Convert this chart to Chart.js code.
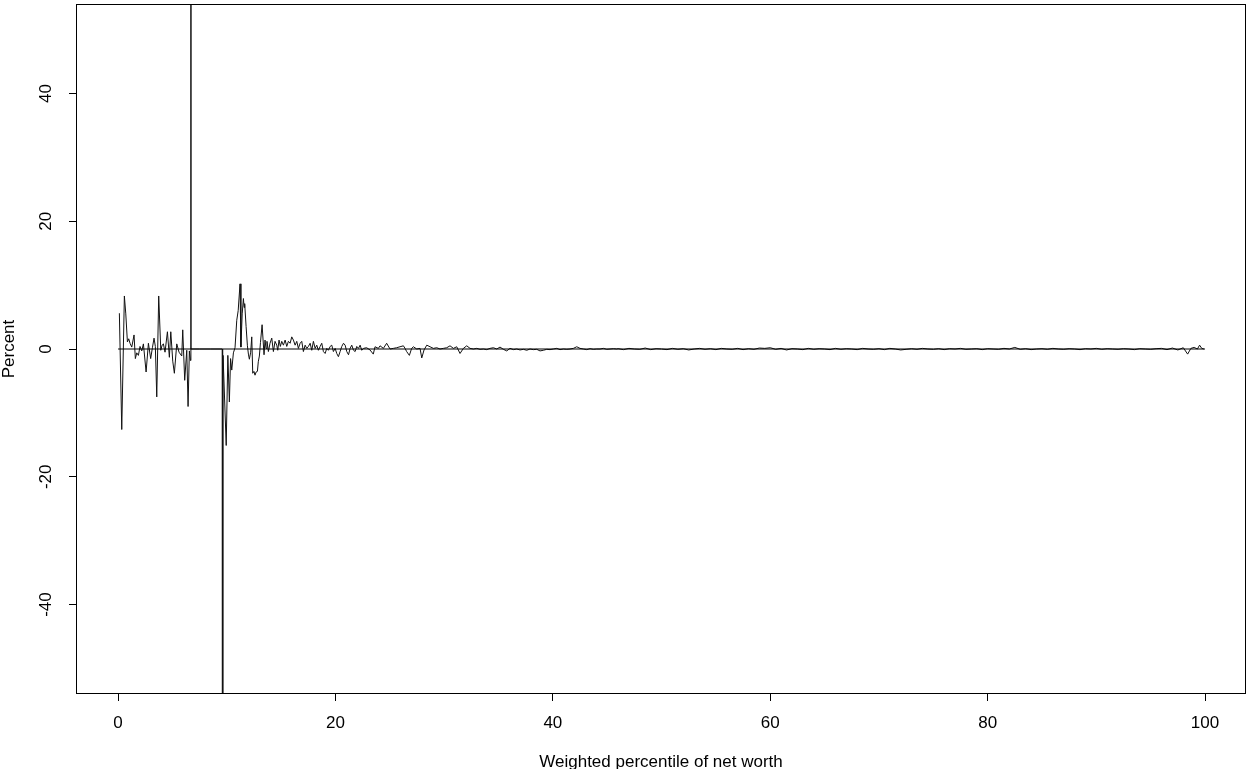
<!DOCTYPE html>
<html>
<head>
<meta charset="utf-8">
<script src="https://cdn.jsdelivr.net/npm/chart.js@4.4.1/dist/chart.umd.min.js"></script>
<style>
html,body{margin:0;padding:0;background:#fff;}
canvas{display:block;}
</style>
</head>
<body>
<canvas id="c" width="1250" height="769"></canvas>
<script>
// Weighted percentile of net worth (x) and percent change (y)
const percentile = [
 0.12,0.34,0.58,0.71,0.86,0.98,1.10,1.26,1.47,1.59,1.72,1.87,2.02,2.18,2.33,2.58,2.79,3.00,3.16,3.31,3.43,3.56,3.74,3.93,4.05,4.17,4.32,4.54,4.72,4.85,5.03,5.18,5.40,5.61,5.86,5.95,6.13,6.32,6.44,6.56,6.66,6.70,6.71,
 7.5,8.5,9.58,9.62,9.66,9.95,10.10,10.24,10.35,10.46,10.61,10.76,10.92,11.05,11.22,11.30,11.42,11.53,11.60,11.65,11.78,11.90,11.99,12.08,12.20,12.30,12.39,12.50,12.60,12.70,12.82,12.90,13.00,13.10,13.25,
 13.43,13.52,13.61,13.70,13.83,13.98,14.14,14.29,14.44,14.60,14.69,14.81,14.93,15.06,15.21,15.37,15.52,15.67,15.83,15.98,16.13,16.29,16.44,16.59,16.75,16.90,17.05,17.21,17.36,17.51,17.67,17.82,17.97,18.13,18.28,18.43,18.59,18.74,18.89,19.05,19.20,19.35,19.51,19.66,19.81,19.97,20.12,20.27,20.43,20.58,20.74,20.89,21.04,21.20,21.35,21.50,21.66,21.81,21.96,22.12,22.27,22.42,22.58,
 22.87,23.18,23.48,23.64,23.95,24.10,24.41,24.71,25.02,25.33,25.63,25.94,26.25,26.40,26.55,26.80,27.01,27.17,27.48,27.78,27.94,28.15,28.40,28.70,29.01,29.32,29.62,29.93,30.24,30.54,30.85,31.16,31.46,31.77,32.08,32.38,32.69,33.00,33.30,33.61,33.92,34.22,34.53,34.84,35.14,35.45,35.76,36.06,36.37,36.68,36.98,37.29,37.60,37.90,38.21,38.52,38.82,39.13,39.44,39.74,40.05,40.36,40.66,40.97,41.28,41.58,41.89,42.20,42.50,42.81,43.12,43.42,43.73,44.04,44.34,44.65,44.96,45.26,45.57,45.88,
 46.0,46.5,47.0,47.5,48.0,48.5,49.0,49.5,50.0,50.5,51.0,51.5,52.0,52.5,53.0,53.5,54.0,54.5,55.0,55.5,56.0,56.5,57.0,57.5,58.0,58.5,59.0,59.5,60.0,60.5,61.0,61.5,62.0,62.5,63.0,63.5,64.0,64.5,65.0,65.5,66.0,66.5,67.0,67.5,68.0,68.5,69.0,69.5,70.0,70.5,71.0,71.5,72.0,72.5,73.0,73.5,74.0,74.5,75.0,75.5,76.0,76.5,77.0,77.5,78.0,78.5,79.0,79.5,80.0,80.5,81.0,81.5,82.0,82.5,83.0,83.5,84.0,84.5,85.0,85.5,86.0,86.5,87.0,87.5,88.0,88.5,89.0,89.5,90.0,90.5,91.0,91.5,92.0,92.5,93.0,93.5,94.0,94.5,95.0,95.5,96.0,96.5,97.0,97.5,98.0,98.4,98.7,99.0,99.3,99.5,99.7,99.9
];
const percentChange = [
 5.6,-12.6,8.3,5.5,1.1,1.6,0.9,0.3,2.2,-1.5,-0.6,-1.0,0.4,-0.3,0.8,-3.6,0.9,-1.5,0.2,1.7,0.4,-7.5,8.3,-0.2,0.6,0.8,-0.5,2.7,-1.3,2.7,-1.9,-3.8,0.8,-0.5,-1.1,3.0,-4.9,-0.2,-9.0,-0.3,-1.8,300,0,
 0,0,0,-250,-1.0,-15.1,-1.0,-8.3,-1.5,-3.3,-0.6,0.2,4.5,6.0,10.2,0.3,5.5,7.9,6.5,7.1,3.5,0.5,-0.8,-1.6,-0.5,1.9,-3.8,-3.5,-4.1,-3.6,-3.5,-2.0,-1.1,1.0,3.8,
 -0.9,1.4,0.1,1.2,-0.4,0.9,1.7,-0.4,1.2,0.6,-0.2,1.4,0.4,1.2,0.6,1.4,0.4,1.2,0.9,1.9,1.4,0.6,1.2,0.1,0.9,1.2,-0.4,0.6,0.1,0.4,0.9,-0.2,1.2,0.1,0.6,-0.2,0.4,0.9,-0.4,-0.7,0.1,-0.2,0.4,0.6,-0.4,0.1,-0.7,-1.2,-0.4,0.4,0.9,0.6,-0.4,-0.9,0.1,0.6,-0.2,-0.4,0.4,0.1,0.6,-0.2,0.1,
 0.2,-0.15,-0.8,0.35,0.1,0.5,0.1,0.9,0.0,0.1,0.2,0.35,0.5,0.1,-0.4,-1.0,0.1,0.35,0.0,0.1,-1.4,-0.15,0.6,0.35,0.1,0.2,0.0,0.1,0.2,0.5,0.1,0.35,-0.7,0.1,0.5,0.1,0.0,0.1,-0.05,0.0,-0.1,0.1,0.2,0.0,0.3,-0.05,-0.3,0.1,-0.1,0.0,-0.15,-0.05,-0.2,0.0,-0.1,-0.05,-0.3,-0.2,-0.05,-0.1,0.0,0.1,-0.1,0.0,-0.05,0.0,0.1,0.35,0.1,0.0,-0.1,0.05,-0.05,0.0,0.0,0.1,-0.05,0.0,0.05,0.0,
 0.05,-0.1,0.1,0.0,-0.05,0.15,-0.1,0.05,0.0,-0.1,0.1,-0.05,0.05,-0.15,0.0,0.1,-0.05,0.05,-0.1,0.1,0.0,-0.05,0.1,-0.1,0.05,-0.05,0.15,0.1,0.2,-0.05,0.1,-0.15,0.05,0.0,-0.1,0.1,-0.05,0.05,0.0,-0.1,0.1,-0.05,0.05,0.0,-0.1,0.1,0.0,-0.05,0.05,-0.1,0.1,0.0,-0.15,-0.05,0.05,-0.05,0.1,0.0,-0.05,0.05,-0.1,0.05,0.0,0.1,-0.05,0.0,0.05,-0.1,0.05,0.0,-0.05,0.1,0.0,0.25,-0.05,0.05,-0.1,0.0,0.05,-0.05,0.1,0.0,-0.05,0.05,0.0,-0.1,0.05,0.0,0.1,-0.05,0.05,0.0,-0.05,0.05,0.0,-0.1,0.05,0.0,-0.05,0.05,0.1,-0.1,0.15,-0.15,0.2,-0.8,0.1,0.25,0.0,0.6,0.1,0.0
];
const xTicks = [0, 20, 40, 60, 80, 100];
const yTicks = [-40, -20, 0, 20, 40];
const zeroLineX = [0, 100];
const zeroLineY = 0;

const mainData = percentile.map((x, i) => ({x: x, y: percentChange[i]}));
const zeroData = zeroLineX.map(x => ({x: x, y: zeroLineY}));

const boxPlugin = {
  id: 'box',
  afterDraw(chart) {
    const a = chart.chartArea, ctx = chart.ctx;
    ctx.save();
    ctx.strokeStyle = '#000';
    ctx.lineWidth = 1;
    ctx.strokeRect(Math.round(a.left) + 0.5, Math.round(a.top) + 0.5, Math.round(a.right - a.left) - 1, Math.round(a.bottom - a.top) - 1);
    ctx.restore();
  }
};

const FONT = 'Liberation Sans, Arial, Helvetica, sans-serif';

new Chart(document.getElementById('c'), {
  type: 'scatter',
  data: {
    datasets: [
      {data: zeroData, showLine: true, borderColor: '#000', borderWidth: 1, pointRadius: 0, tension: 0},
      {data: mainData, showLine: true, borderColor: '#111', borderWidth: 1, pointRadius: 0, tension: 0}
    ]
  },
  options: {
    responsive: false,
    devicePixelRatio: 1,
    animation: false,
    layout: {padding: {top: 4, right: 4, left: 0, bottom: 0}},
    plugins: {legend: {display: false}, tooltip: {enabled: false}},
    scales: {
      x: {
        type: 'linear', min: -3.87, max: 103.77,
        afterBuildTicks(s) { s.ticks = xTicks.map(v => ({value: v})); },
        afterFit(s) { s.height = 75; s.paddingLeft = 0; s.paddingRight = 0; },
        grid: {drawOnChartArea: false, drawTicks: true, tickLength: 7, tickColor: '#000', tickWidth: 1},
        border: {display: false},
        ticks: {color: '#000', font: {family: FONT, size: 17}, padding: 12, maxRotation: 0, autoSkip: false},
        title: {display: true, text: 'Weighted percentile of net worth', color: '#000', font: {family: FONT, size: 17, lineHeight: 0.76}, padding: 0}
      },
      y: {
        type: 'linear', min: -54, max: 54,
        afterBuildTicks(s) { s.ticks = yTicks.map(v => ({value: v})); },
        afterFit(s) { s.width = 76; s.paddingTop = 0; s.paddingBottom = 0; },
        grid: {drawOnChartArea: false, drawTicks: true, tickLength: 7, tickColor: '#000', tickWidth: 1},
        border: {display: false},
        ticks: {color: '#000', font: {family: FONT, size: 17}, padding: 10, minRotation: 90, maxRotation: 90, crossAlign: 'center', autoSkip: false},
        title: {display: true, text: 'Percent', color: '#000', font: {family: FONT, size: 17, lineHeight: 1}, padding: {top: 1, bottom: 0}}
      }
    }
  },
  plugins: [boxPlugin]
});
</script>
</body>
</html>
